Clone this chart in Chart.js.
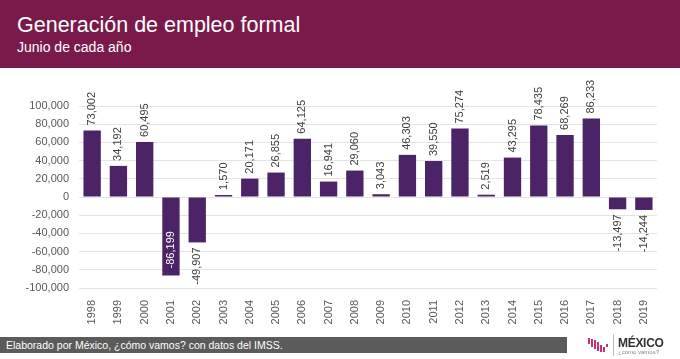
<!DOCTYPE html>
<html>
<head>
<meta charset="utf-8">
<script src="https://cdn.jsdelivr.net/npm/chart.js@4"></script>
<style>
  body { margin:0; width:680px; height:359px; background:#fff; position:relative; overflow:hidden;
         font-family:"Liberation Sans", Arial, sans-serif; }
  #header { position:absolute; left:0; top:0; width:680px; height:68px; background:#7a1a4a; }
  #title { position:absolute; left:17px; top:13px; color:#fff; font-size:21.5px; }
  #subtitle { position:absolute; left:17px; top:39px; color:#fff; font-size:14px; }
  #chart { position:absolute; left:0; top:68px; }
  #footer { position:absolute; left:0; top:337px; width:567px; height:16px; background:#5b5b5b;
            color:#fff; font-size:10.5px; line-height:16px; padding-left:6px; box-sizing:border-box; }
  #logo { position:absolute; left:586px; top:333px; width:90px; height:24px; }
  .pk { position:absolute; width:2px; background:#c8307a; }
  #divider { position:absolute; left:27px; top:1px; width:1px; height:22px; background:#bbb; }
  #mx { position:absolute; left:32px; top:3px; font-size:12px; font-weight:bold; color:#333; letter-spacing:-0.3px; }
  #cv { position:absolute; left:32px; top:16px; font-size:6px; color:#888; }
</style>
</head>
<body>
<div id="header">
  <div id="title">Generación de empleo formal</div>
  <div id="subtitle">Junio de cada año</div>
</div>
<canvas id="chart" width="680" height="266"></canvas>
<div id="footer">Elaborado por México, ¿cómo vamos? con datos del IMSS.</div>
<div id="logo">
  <div class="pk" style="left:2px;top:5px;height:6px"></div>
  <div class="pk" style="left:5px;top:6px;height:8px"></div>
  <div class="pk" style="left:8px;top:7px;height:9px"></div>
  <div class="pk" style="left:11px;top:9px;height:9px"></div>
  <div class="pk" style="left:14px;top:12px;height:7px"></div>
  <div class="pk" style="left:17px;top:14px;height:5px"></div>
  <div class="pk" style="left:20px;top:11px;height:3px"></div>
  <div id="divider"></div>
  <div id="mx">MÉXICO</div>
  <div id="cv">¿cómo vamos?</div>
</div>
<script>
const years = ['1998','1999','2000','2001','2002','2003','2004','2005','2006','2007','2008',
               '2009','2010','2011','2012','2013','2014','2015','2016','2017','2018','2019'];
const empleo = [73002, 34192, 60495, -86199, -49907, 1570, 20171, 26855, 64125, 16941, 29060,
                3043, 46303, 39550, 75274, 2519, 43295, 78435, 68269, 86233, -13497, -14244];

const fontFam = '"Liberation Sans", Arial, sans-serif';

// etiquetas giradas sobre cada barra
const barLabels = {
  id: 'barLabels',
  afterDatasetsDraw(chart) {
    const ctx = chart.ctx;
    const area = chart.chartArea;
    const meta = chart.getDatasetMeta(0);
    ctx.save();
    ctx.font = '11px ' + fontFam;
    ctx.textBaseline = 'middle';
    meta.data.forEach((bar, i) => {
      const v = empleo[i];
      const txt = v.toLocaleString('en-US');
      const w = ctx.measureText(txt).width;
      ctx.save();
      ctx.translate(bar.x, bar.y);
      ctx.rotate(-Math.PI / 2);
      if (v >= 0) {
        ctx.textAlign = 'left';
        ctx.fillStyle = '#404040';
        ctx.fillText(txt, 5, 0);
      } else if (bar.y + 5 + w <= area.bottom) {
        ctx.textAlign = 'right';
        ctx.fillStyle = '#404040';
        ctx.fillText(txt, -5, 0);
      } else {
        ctx.textAlign = 'left';
        ctx.fillStyle = '#ffffff';
        ctx.fillText(txt, 7, 0);
      }
      ctx.restore();
    });
    ctx.restore();
  }
};

new Chart(document.getElementById('chart'), {
  type: 'bar',
  data: {
    labels: years,
    datasets: [{
      data: empleo,
      backgroundColor: '#4b2366',
      borderWidth: 0,
      minBarLength: 2,
      barPercentage: 0.66,
      categoryPercentage: 1
    }]
  },
  options: {
    responsive: false,
    animation: false,
    layout: { padding: { top: 38, right: 23, left: 0, bottom: 0 } },
    plugins: { legend: { display: false }, tooltip: { enabled: false } },
    scales: {
      x: {
        grid: { display: false },
        border: { display: false },
        ticks: {
          color: '#595959', font: { size: 11, family: fontFam },
          minRotation: 90, maxRotation: 90, padding: 4, autoSkip: false
        },
        afterFit: (s) => { s.height = 46; }
      },
      y: {
        min: -100000, max: 100000,
        grid: { color: '#e4e4e4', drawTicks: false },
        border: { display: false },
        ticks: {
          stepSize: 20000, color: '#595959', font: { size: 11, family: fontFam }, padding: 10,
          callback: (v) => v.toLocaleString('en-US')
        },
        afterFit: (s) => { s.width = 79; }
      }
    }
  },
  plugins: [barLabels]
});
</script>
</body>
</html>
